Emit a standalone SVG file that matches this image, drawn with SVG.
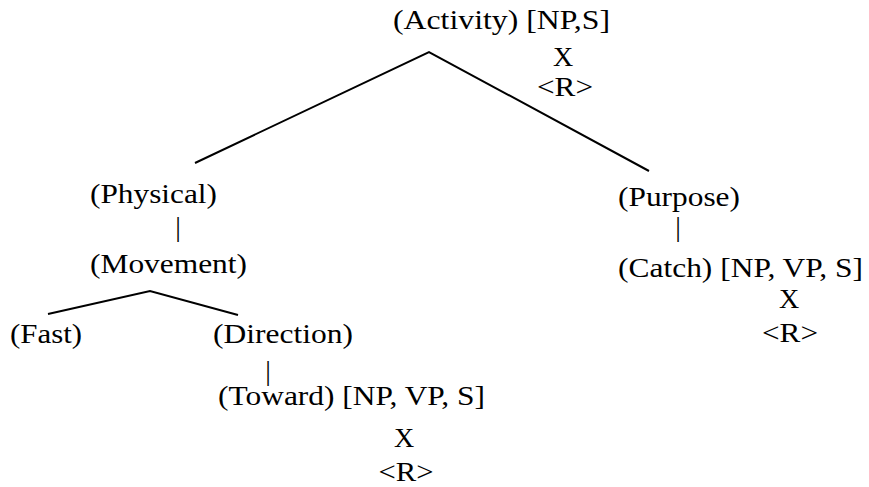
<svg xmlns="http://www.w3.org/2000/svg" width="869" height="487" viewBox="0 0 869 487">
  <style>
    .mid { text-anchor: middle; }
    .edge { stroke: #000; stroke-width: 2; fill: none; }
    text { font-family: "Liberation Serif", "DejaVu Serif", serif; font-size: 28px; fill: #000; }
  </style>
  <rect width="869" height="487" fill="#fff"/>

  <!-- tree edges -->
  <g id="connectors">
    <polyline class="edge" points="195,163 429,52 649,171"/>
    <polyline class="edge" points="48,314 150,291 238,315"/>
    <text class="mid" x="178" y="236">|</text>
    <text class="mid" x="268" y="380">|</text>
    <text class="mid" x="678" y="236">|</text>
  </g>

  <g id="activity">
    <text x="393" y="29" textLength="217" lengthAdjust="spacingAndGlyphs">(Activity) [NP,S]</text>
    <text class="mid" x="563" y="66">X</text>
    <text class="mid" x="565" y="96" textLength="56" lengthAdjust="spacingAndGlyphs">&lt;R&gt;</text>
  </g>

  <g id="physical">
    <text x="90" y="203" textLength="127" lengthAdjust="spacingAndGlyphs">(Physical)</text>
  </g>

  <g id="movement">
    <text x="90" y="273" textLength="157" lengthAdjust="spacingAndGlyphs">(Movement)</text>
  </g>

  <g id="fast">
    <text x="10" y="343" textLength="72" lengthAdjust="spacingAndGlyphs">(Fast)</text>
  </g>

  <g id="direction">
    <text x="213" y="343" textLength="140" lengthAdjust="spacingAndGlyphs">(Direction)</text>
  </g>

  <g id="toward">
    <text x="218" y="405" textLength="267" lengthAdjust="spacingAndGlyphs">(Toward) [NP, VP, S]</text>
    <text class="mid" x="404" y="447">X</text>
    <text class="mid" x="406" y="481" textLength="55" lengthAdjust="spacingAndGlyphs">&lt;R&gt;</text>
  </g>

  <g id="purpose">
    <text x="618" y="206" textLength="122" lengthAdjust="spacingAndGlyphs">(Purpose)</text>
  </g>

  <g id="catch">
    <text x="618" y="277" textLength="245" lengthAdjust="spacingAndGlyphs">(Catch) [NP, VP, S]</text>
    <text class="mid" x="789" y="308">X</text>
    <text class="mid" x="790" y="342" textLength="56" lengthAdjust="spacingAndGlyphs">&lt;R&gt;</text>
  </g>
</svg>
